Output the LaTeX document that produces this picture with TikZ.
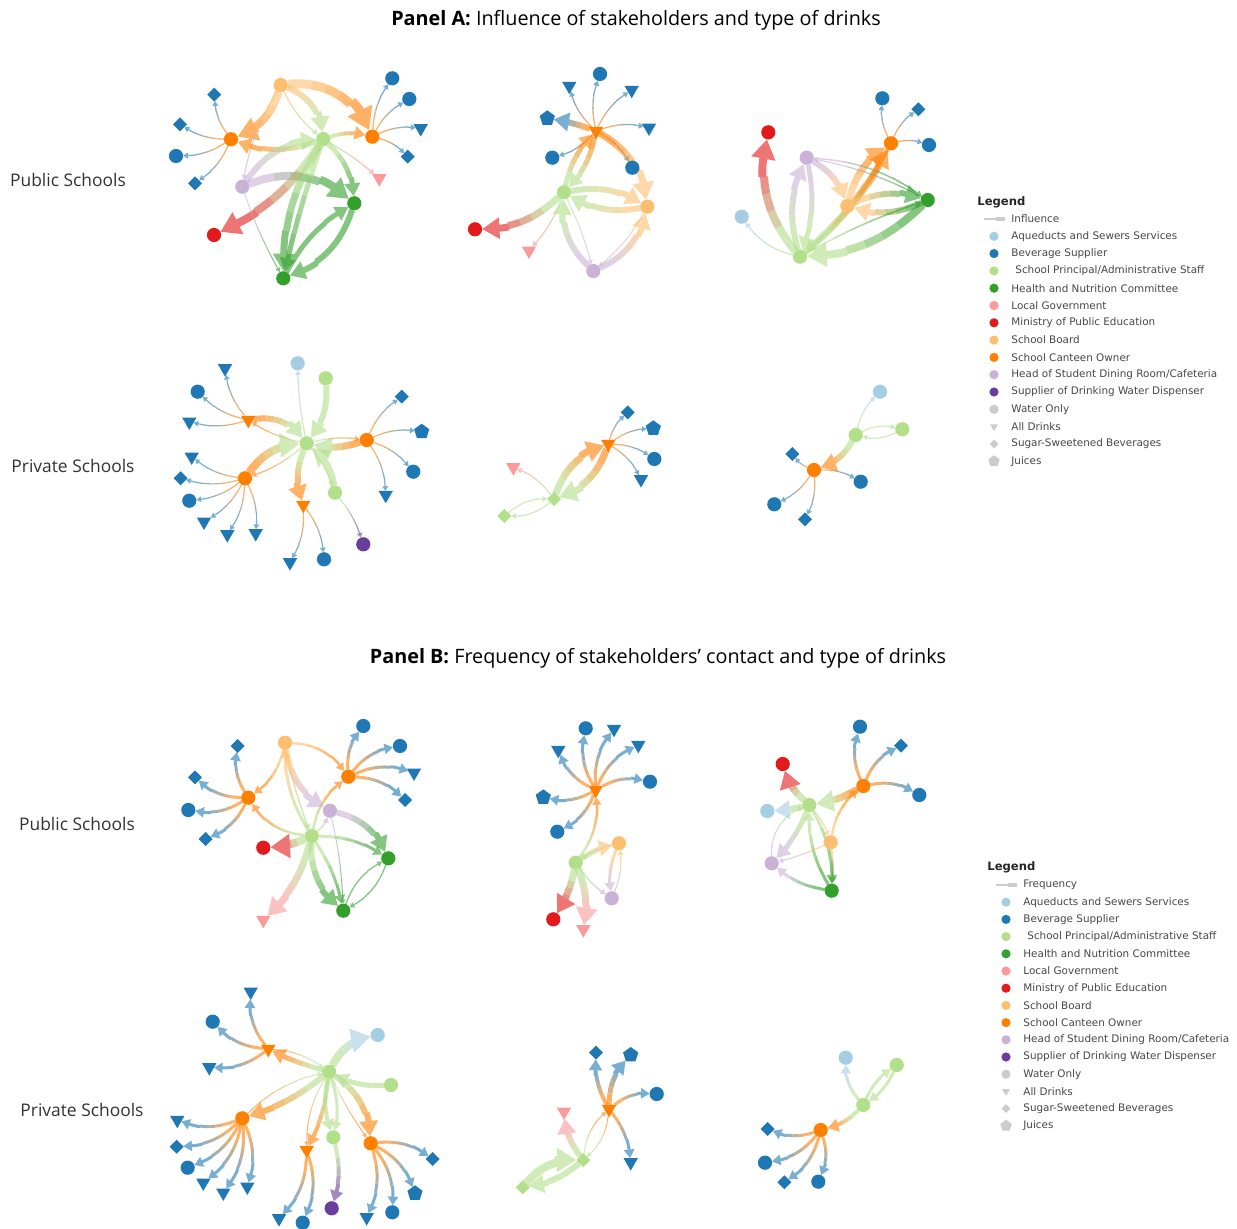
\documentclass[tikz,border=0pt]{standalone}
\usepackage{fontspec}
\setmainfont{Open Sans}
\newfontfamily\lgf{DejaVu Sans}
\usetikzlibrary{shapes.geometric,arrows.meta}
\definecolor{cAq}{HTML}{A6CEE3}
\definecolor{cBev}{HTML}{1F78B4}
\definecolor{cPri}{HTML}{B2DF8A}
\definecolor{cHea}{HTML}{33A02C}
\definecolor{cLoc}{HTML}{FB9A99}
\definecolor{cMin}{HTML}{E31A1C}
\definecolor{cSB}{HTML}{FDBF6F}
\definecolor{cCan}{HTML}{FF7F00}
\definecolor{cHd}{HTML}{CAB2D6}
\definecolor{cSup}{HTML}{6A3D9A}
\definecolor{cGr}{HTML}{CCCCCC}
\definecolor{txt}{HTML}{333333}
\pgfdeclarelayer{bg}\pgfsetlayers{bg,main}
\tikzset{
 nd/.style={inner sep=0pt, outer sep=0pt, draw=none},
 cir/.style={nd, circle, minimum size=7.1pt},
 tri/.style={nd, regular polygon, regular polygon sides=3, shape border rotate=180, minimum size=8.3pt},
 dia/.style={nd, diamond, minimum size=7pt},
 pen/.style={nd, regular polygon, regular polygon sides=5, minimum size=8pt},
 lcir/.style={nd, circle, minimum size=4.6pt},
 ltri/.style={nd, regular polygon, regular polygon sides=3, shape border rotate=180, minimum size=4.6pt},
 ldia/.style={nd, diamond, minimum size=4.4pt},
 lpen/.style={nd, regular polygon, regular polygon sides=5, minimum size=6pt},
 lgt/.style={inner sep=0pt, text=black!72, font=\lgf\fontsize{5.2}{6}\selectfont},
 ttl/.style={inner sep=0pt, text=black, font=\fontsize{9.9}{11}\selectfont},
 rowl/.style={inner sep=0pt, text=txt, font=\fontsize{8.7}{10}\selectfont},
}
\newcommand\N[5]{\node[#3, fill=#2] (#1) at (#4,#5) {};\expandafter\xdef\csname ncol#1\endcsname{#2}}
\newcommand\ed[4][15]{%
  \edef\cA{\csname ncol#3\endcsname}%
  \edef\cB{\csname ncol#4\endcsname}%
  \pgfpointdiff{\pgfpointanchor{#3}{center}}{\pgfpointanchor{#4}{center}}%
  \pgfgetlastxy{\mx}{\my}%
  \pgfmathsetmacro\Lc{max(veclen(\mx,\my)-7,2)*(1+(#1/140)*(#1/140))}%
  \pgfmathsetmacro\La{0.25*\Lc}%
  \pgfmathsetmacro\Lb{0.15*\Lc}%
  \pgfmathsetmacro\Lm{0.4*\Lc}%
  \pgfmathsetmacro\Lk{0.55*\Lc}%
  \pgfmathsetmacro\Ln{0.7*\Lc}%
  \begin{pgfonlayer}{bg}%
  \begin{scope}[transparency group, opacity=0.6]%
  \draw[line width=#2*0.5pt, draw=\cA, dash pattern=on \La pt off 3000pt] (#3) to[bend left=#1] (#4);%
  \draw[line width=#2*0.5pt, draw=\cA!75!\cB, dash pattern=on 0pt off \La pt on \Lb pt off 3000pt] (#3) to[bend left=#1] (#4);%
  \draw[line width=#2*0.5pt, draw=\cA!50!\cB, dash pattern=on 0pt off \Lm pt on \Lb pt off 3000pt] (#3) to[bend left=#1] (#4);%
  \draw[line width=#2*0.5pt, draw=\cA!25!\cB, dash pattern=on 0pt off \Lk pt on \Lb pt off 3000pt] (#3) to[bend left=#1] (#4);%
  \draw[line width=#2*0.5pt, draw=\cB, dash pattern=on 0pt off \Ln pt on 3000pt off 1pt, -{Triangle[length=1pt 2.2, width=1.2pt 2.6]}] (#3) to[bend left=#1] (#4);%
  \end{scope}%
  \end{pgfonlayer}}
\newcommand\LI[5]{%
  \node[#3, fill=#4] (#1m) at (\lgx, \lgy+#2*\lgd) {};
  \node[lgt, anchor=west] (#1t) at (\lgtx, \lgy+#2*\lgd) {#5};}
\begin{document}
\begin{tikzpicture}[x=0.5pt,y=-0.5pt]
\begin{pgfonlayer}{bg}
\fill[white] (0,0) rectangle (1237,1229);
\end{pgfonlayer}
\useasboundingbox (0,0) rectangle (1237,1229);

% titles and row labels
\node[ttl] (tA) at (636,20) {\textbf{Panel A:} Influence of stakeholders and type of drinks};
\node[ttl] (tB) at (658,658) {\textbf{Panel B:} Frequency of stakeholders' contact and type of drinks};
\node[rowl] (rA1) at (68,180) {Public Schools};
\node[rowl] (rA2) at (73,466) {Private Schools};
\node[rowl] (rB1) at (77,824) {Public Schools};
\node[rowl] (rB2) at (82,1110) {Private Schools};

% ================= Panel A public 1
\N{a1sb}{cSB}{cir}{280.7}{85}
\N{a1cl}{cCan}{cir}{231}{139.3}
\N{a1cr}{cCan}{cir}{372.3}{136.7}
\N{a1p}{cPri}{cir}{323.3}{139}
\N{a1h}{cHd}{cir}{242.3}{186.7}
\N{a1g}{cHea}{cir}{354.3}{203.3}
\N{a1g2}{cHea}{cir}{283.3}{278.3}
\N{a1m}{cMin}{cir}{214}{235}
\N{a1l}{cLoc}{tri}{379.3}{178.3}
\N{a1b1}{cBev}{dia}{214.3}{94.7}
\N{a1b2}{cBev}{dia}{180}{124.3}
\N{a1b3}{cBev}{cir}{176}{156}
\N{a1b4}{cBev}{dia}{195}{183.3}
\N{a1b5}{cBev}{cir}{392.3}{78.3}
\N{a1b6}{cBev}{cir}{409.3}{99}
\N{a1b7}{cBev}{tri}{420.7}{128.3}
\N{a1b8}{cBev}{dia}{407.7}{156.7}
\ed[35]{9}{a1sb}{a1cr}
\ed[25]{8}{a1sb}{a1cl}
\ed[30]{6}{a1sb}{a1p}
\ed[-10]{1.3}{a1sb}{a1h}
\ed[-12]{1.3}{a1sb}{a1p}
\ed[20]{5}{a1p}{a1cl}
\ed[15]{4}{a1p}{a1cr}
\ed[25]{6}{a1h}{a1p}
\ed[30]{8}{a1h}{a1g}
\ed[15]{8}{a1p}{a1m}
\ed[20]{5}{a1p}{a1g}
\ed[-15]{7}{a1p}{a1g2}
\ed[-3]{5}{a1p}{a1g2}
\ed[25]{6}{a1g}{a1g2}
\ed[15]{5}{a1g2}{a1g}
\ed[5]{1.3}{a1p}{a1l}
\ed[-5]{1}{a1h}{a1g2}
\ed{1.3}{a1cl}{a1b1}
\ed{1.3}{a1cl}{a1b2}
\ed{1.3}{a1cl}{a1b3}
\ed{1.3}{a1cl}{a1b4}
\ed{1.3}{a1cr}{a1b5}
\ed{1.3}{a1cr}{a1b6}
\ed{1.3}{a1cr}{a1b7}
\ed{1.3}{a1cr}{a1b8}

% ================= Panel A public 2
\N{a2c}{cCan}{tri}{596}{131}
\N{a2b1}{cBev}{cir}{600}{74}
\N{a2b2}{cBev}{tri}{569.3}{86}
\N{a2b3}{cBev}{tri}{631.7}{90}
\N{a2b4}{cBev}{pen}{547.3}{118.3}
\N{a2b5}{cBev}{tri}{649}{127.7}
\N{a2b6}{cBev}{cir}{552.3}{157.7}
\N{a2b7}{cBev}{cir}{632.3}{167.7}
\N{a2p}{cPri}{cir}{564}{192.3}
\N{a2sb}{cSB}{cir}{647.3}{206.7}
\N{a2m}{cMin}{cir}{475}{229.3}
\N{a2l}{cLoc}{tri}{529}{250.7}
\N{a2h}{cHd}{cir}{593.3}{271}
\ed[-5]{6}{a2c}{a2b4}
\ed{1.3}{a2c}{a2b1}
\ed{1.3}{a2c}{a2b2}
\ed{1.3}{a2c}{a2b3}
\ed{1.3}{a2c}{a2b5}
\ed{1.3}{a2c}{a2b6}
\ed{1.3}{a2c}{a2b7}
\ed[25]{7}{a2c}{a2sb}
\ed[15]{5}{a2p}{a2c}
\ed[15]{5}{a2c}{a2p}
\ed[20]{6}{a2p}{a2sb}
\ed[20]{6}{a2sb}{a2p}
\ed[20]{7}{a2p}{a2m}
\ed[10]{1.3}{a2p}{a2l}
\ed[25]{6}{a2h}{a2p}
\ed[-25]{6}{a2h}{a2sb}
\ed[10]{1}{a2sb}{a2h}
\ed[5]{1}{a2p}{a2h}

% ================= Panel A public 3
\N{a3m}{cMin}{cir}{768.3}{132.3}
\N{a3b1}{cBev}{cir}{882.3}{98.3}
\N{a3b2}{cBev}{dia}{918.3}{109.3}
\N{a3b3}{cBev}{cir}{929}{145}
\N{a3c}{cCan}{cir}{891}{143.3}
\N{a3h}{cHd}{cir}{806.7}{157.7}
\N{a3sb}{cSB}{cir}{847.3}{206}
\N{a3g}{cHea}{cir}{927.7}{200}
\N{a3a}{cAq}{cir}{741.7}{216.7}
\N{a3p}{cPri}{cir}{800}{256.7}
\ed[25]{8}{a3p}{a3m}
\ed[20]{6}{a3p}{a3h}
\ed[15]{5}{a3h}{a3p}
\ed[-10]{7}{a3p}{a3c}
\ed[20]{7}{a3sb}{a3c}
\ed[10]{4}{a3c}{a3p}
\ed[20]{6}{a3h}{a3sb}
\ed[20]{8}{a3g}{a3p}
\ed[20]{6}{a3sb}{a3g}
\ed[20]{6}{a3g}{a3sb}
\ed[15]{1.5}{a3h}{a3g}
\ed[-8]{1.2}{a3g}{a3h}
\ed[20]{1.3}{a3p}{a3a}
\ed[5]{1.5}{a3p}{a3g}
\ed{1.3}{a3c}{a3b1}
\ed{1.3}{a3c}{a3b2}
\ed{1.3}{a3c}{a3b3}

% ================= Panel A private 1
\N{a4p}{cPri}{cir}{306.7}{443.3}
\N{a4a}{cAq}{cir}{297.7}{363.3}
\N{a4p2}{cPri}{cir}{325.7}{378.3}
\N{a4ct}{cCan}{tri}{248.3}{420}
\N{a4cr}{cCan}{cir}{366.7}{440}
\N{a4cl}{cCan}{cir}{245}{478.3}
\N{a4cb}{cCan}{tri}{303.3}{505}
\N{a4p3}{cPri}{cir}{335}{492.7}
\N{a4s}{cSup}{cir}{363.3}{544.3}
\N{a4b1}{cBev}{tri}{225}{368.3}
\N{a4b2}{cBev}{cir}{197.7}{391.7}
\N{a4b3}{cBev}{tri}{189.3}{421.7}
\N{a4b4}{cBev}{dia}{401.7}{396.7}
\N{a4b5}{cBev}{pen}{421.7}{431.7}
\N{a4b6}{cBev}{cir}{413.3}{471.7}
\N{a4b7}{cBev}{tri}{385.7}{495}
\N{a4b8}{cBev}{tri}{191.7}{456.7}
\N{a4b9}{cBev}{dia}{180.7}{478.3}
\N{a4b10}{cBev}{cir}{189.3}{500.7}
\N{a4b11}{cBev}{tri}{204}{521.7}
\N{a4b12}{cBev}{tri}{227.3}{534.3}
\N{a4b13}{cBev}{tri}{255.7}{533.3}
\N{a4b14}{cBev}{tri}{290}{562.3}
\N{a4b15}{cBev}{cir}{324}{559.3}
\ed[30]{6}{a4ct}{a4p}
\ed[20]{6}{a4p2}{a4p}
\ed[15]{7}{a4cr}{a4p}
\ed[25]{8}{a4cl}{a4p}
\ed[-20]{6}{a4p}{a4cb}
\ed[-20]{7}{a4p3}{a4p}
\ed[5]{1.2}{a4p}{a4a}
\ed[10]{1.2}{a4p}{a4ct}
\ed[10]{1.2}{a4p}{a4cr}
\ed[10]{1.2}{a4p}{a4cl}
\ed[10]{1.2}{a4p}{a4p3}
\ed[10]{1.2}{a4p3}{a4s}
\ed{1.2}{a4ct}{a4b1}
\ed{1.2}{a4ct}{a4b2}
\ed{1.2}{a4ct}{a4b3}
\ed{1.2}{a4cr}{a4b4}
\ed{1.2}{a4cr}{a4b5}
\ed{1.2}{a4cr}{a4b6}
\ed{1.2}{a4cr}{a4b7}
\ed{1.2}{a4cl}{a4b8}
\ed{1.2}{a4cl}{a4b9}
\ed{1.2}{a4cl}{a4b10}
\ed{1.2}{a4cl}{a4b11}
\ed{1.2}{a4cl}{a4b12}
\ed{1.2}{a4cl}{a4b13}
\ed{1.2}{a4cb}{a4b14}
\ed{1.2}{a4cb}{a4b15}

% ================= Panel A private 2
\N{a5c}{cCan}{tri}{608.3}{444}
\N{a5b1}{cBev}{dia}{627.7}{412.3}
\N{a5b2}{cBev}{pen}{653.3}{428.3}
\N{a5b3}{cBev}{cir}{654.3}{459}
\N{a5b4}{cBev}{tri}{641}{479.3}
\N{a5p}{cPri}{dia}{554}{499}
\N{a5p2}{cPri}{dia}{504.3}{516}
\N{a5l}{cLoc}{tri}{513.3}{467.3}
\ed[25]{7}{a5p}{a5c}
\ed[25]{7}{a5c}{a5p}
\ed[-15]{1.2}{a5p}{a5l}
\ed[20]{1.2}{a5p}{a5p2}
\ed[20]{1.2}{a5p2}{a5p}
\ed{1.2}{a5c}{a5b1}
\ed{1.2}{a5c}{a5b2}
\ed{1.2}{a5c}{a5b3}
\ed{1.2}{a5c}{a5b4}

% ================= Panel A private 3
\N{a6a}{cAq}{cir}{880}{391.7}
\N{a6p2}{cPri}{cir}{902.3}{429.3}
\N{a6p}{cPri}{cir}{855.7}{435}
\N{a6c}{cCan}{cir}{814}{470}
\N{a6b1}{cBev}{dia}{792.3}{454}
\N{a6b2}{cBev}{cir}{860.7}{481.7}
\N{a6b3}{cBev}{cir}{774.3}{504.3}
\N{a6b4}{cBev}{dia}{805}{519.3}
\ed[15]{1.2}{a6p}{a6a}
\ed[20]{1.2}{a6p}{a6p2}
\ed[20]{1.2}{a6p2}{a6p}
\ed[20]{6}{a6p}{a6c}
\ed{1.2}{a6c}{a6b1}
\ed{1.2}{a6c}{a6b2}
\ed{1.2}{a6c}{a6b3}
\ed{1.2}{a6c}{a6b4}

% ================= Panel B public 1
\N{b1sb}{cSB}{cir}{285}{742.7}
\N{b1cr}{cCan}{cir}{348.3}{776.7}
\N{b1cl}{cCan}{cir}{248.3}{797.7}
\N{b1h}{cHd}{cir}{330}{810.7}
\N{b1p}{cPri}{cir}{311.7}{836}
\N{b1m}{cMin}{cir}{263.3}{847.7}
\N{b1g}{cHea}{cir}{388.3}{858.3}
\N{b1g2}{cHea}{cir}{343.3}{910.7}
\N{b1l}{cLoc}{tri}{263.3}{920}
\N{b1b1}{cBev}{cir}{363.3}{726}
\N{b1b2}{cBev}{cir}{400}{746}
\N{b1b3}{cBev}{tri}{414}{772.7}
\N{b1b4}{cBev}{dia}{405}{800}
\N{b1b5}{cBev}{dia}{237.7}{746}
\N{b1b6}{cBev}{dia}{195}{777.3}
\N{b1b7}{cBev}{cir}{188.3}{810}
\N{b1b8}{cBev}{dia}{205.7}{839}
\ed[20]{3}{b1cr}{b1b1}
\ed[20]{3}{b1cr}{b1b2}
\ed[20]{3}{b1cr}{b1b3}
\ed[20]{3}{b1cr}{b1b4}
\ed[20]{3}{b1cl}{b1b5}
\ed[20]{3}{b1cl}{b1b6}
\ed[20]{3}{b1cl}{b1b7}
\ed[20]{3}{b1cl}{b1b8}
\ed[25]{2.5}{b1sb}{b1cr}
\ed[20]{2.5}{b1sb}{b1cl}
\ed[20]{2.5}{b1p}{b1cr}
\ed[25]{2.5}{b1p}{b1cl}
\ed[-25]{6}{b1sb}{b1h}
\ed[-5]{1.5}{b1sb}{b1p}
\ed[15]{3}{b1p}{b1sb}
\ed[25]{6}{b1h}{b1g}
\ed[10]{8}{b1p}{b1m}
\ed[15]{7}{b1p}{b1l}
\ed[15]{3}{b1p}{b1g}
\ed[-25]{6}{b1p}{b1g2}
\ed[10]{3}{b1p}{b1g2}
\ed[20]{1.3}{b1g}{b1g2}
\ed[20]{1.3}{b1g2}{b1g}
\ed[-15]{1.5}{b1p}{b1h}
\ed[5]{1}{b1h}{b1g2}

% ================= Panel B public 2
\N{b2c}{cCan}{tri}{595.7}{790}
\N{b2b1}{cBev}{cir}{585.7}{728.3}
\N{b2b2}{cBev}{tri}{614}{729}
\N{b2b3}{cBev}{tri}{558.3}{750}
\N{b2b4}{cBev}{tri}{638.3}{745}
\N{b2b5}{cBev}{cir}{650}{781.7}
\N{b2b6}{cBev}{pen}{543.3}{797.3}
\N{b2b7}{cBev}{cir}{557.3}{831.7}
\N{b2sb}{cSB}{cir}{619}{843.3}
\N{b2p}{cPri}{cir}{575.7}{862.7}
\N{b2h}{cHd}{cir}{611.7}{898.3}
\N{b2m}{cMin}{cir}{553.3}{919.3}
\N{b2l}{cLoc}{tri}{583.3}{929.3}
\ed[20]{3}{b2c}{b2b1}
\ed[20]{3}{b2c}{b2b2}
\ed[20]{3}{b2c}{b2b3}
\ed[20]{3}{b2c}{b2b4}
\ed[20]{3}{b2c}{b2b5}
\ed[20]{3}{b2c}{b2b6}
\ed[20]{3}{b2c}{b2b7}
\ed[-20]{2.5}{b2p}{b2c}
\ed[10]{5}{b2p}{b2sb}
\ed[-15]{3}{b2sb}{b2h}
\ed[-15]{1.2}{b2h}{b2sb}
\ed[10]{7}{b2p}{b2m}
\ed[15]{7}{b2p}{b2l}
\ed[-10]{1.5}{b2p}{b2h}
\ed[-10]{1.2}{b2sb}{b2p}

% ================= Panel B public 3
\N{b3b1}{cBev}{cir}{860}{726.7}
\N{b3b2}{cBev}{dia}{901}{745.7}
\N{b3c}{cCan}{cir}{863.3}{786}
\N{b3b3}{cBev}{cir}{919.3}{795}
\N{b3m}{cMin}{cir}{782.7}{764}
\N{b3p}{cPri}{cir}{809.3}{805}
\N{b3a}{cAq}{cir}{767.3}{811}
\N{b3sb}{cSB}{cir}{830.7}{842.3}
\N{b3h}{cHd}{cir}{771.7}{863.3}
\N{b3g}{cHea}{cir}{831.7}{890.7}
\ed[20]{3}{b3c}{b3b1}
\ed[20]{3}{b3c}{b3b2}
\ed[20]{3}{b3c}{b3b3}
\ed[10]{7}{b3c}{b3p}
\ed[20]{2.5}{b3sb}{b3c}
\ed[15]{7}{b3p}{b3m}
\ed[5]{6}{b3p}{b3a}
\ed[10]{5}{b3p}{b3h}
\ed[15]{3}{b3p}{b3g}
\ed[15]{3}{b3g}{b3p}
\ed[15]{3}{b3g}{b3h}
\ed[35]{1.2}{b3h}{b3p}
\ed[5]{2}{b3sb}{b3g}
\ed[5]{1.2}{b3sb}{b3h}
\ed[10]{1.2}{b3p}{b3sb}

% ================= Panel B private 1
\N{b4p}{cPri}{cir}{329}{1071.7}
\N{b4a}{cAq}{cir}{377.7}{1035}
\N{b4p2}{cPri}{cir}{391}{1085}
\N{b4ct}{cCan}{tri}{268.3}{1049}
\N{b4cl}{cCan}{cir}{242.3}{1118.3}
\N{b4p3}{cPri}{cir}{333.3}{1137.3}
\N{b4cb}{cCan}{tri}{306.7}{1150}
\N{b4cr}{cCan}{cir}{370.7}{1143.3}
\N{b4s}{cSup}{cir}{331.7}{1208.3}
\N{b4b1}{cBev}{tri}{250.7}{991.7}
\N{b4b2}{cBev}{cir}{212.7}{1021.7}
\N{b4b3}{cBev}{tri}{209.3}{1067.3}
\N{b4b4}{cBev}{tri}{177.3}{1120}
\N{b4b5}{cBev}{dia}{176.7}{1146.7}
\N{b4b6}{cBev}{cir}{187.7}{1167.7}
\N{b4b7}{cBev}{tri}{203.3}{1182.7}
\N{b4b8}{cBev}{tri}{223.3}{1192.7}
\N{b4b9}{cBev}{tri}{247.3}{1186.7}
\N{b4b10}{cBev}{tri}{279}{1218.3}
\N{b4b11}{cBev}{cir}{302.7}{1222.7}
\N{b4b12}{cBev}{tri}{366.7}{1217.3}
\N{b4b13}{cBev}{cir}{392.3}{1212.3}
\N{b4b14}{cBev}{pen}{415}{1193.3}
\N{b4b15}{cBev}{dia}{432.7}{1159}
\ed[25]{8}{b4p}{b4a}
\ed[15]{5}{b4p2}{b4p}
\ed[5]{5}{b4p}{b4ct}
\ed[15]{1}{b4ct}{b4p}
\ed[10]{6}{b4p}{b4cl}
\ed[15]{1}{b4cl}{b4p}
\ed[10]{4}{b4p}{b4cb}
\ed[-15]{1}{b4p}{b4cb}
\ed[-15]{4}{b4p}{b4p3}
\ed[15]{3}{b4p}{b4p3}
\ed[25]{6}{b4p}{b4cr}
\ed[-5]{1}{b4p}{b4cr}
\ed[15]{4}{b4p3}{b4s}
\ed[20]{3}{b4ct}{b4b1}
\ed[20]{3}{b4ct}{b4b2}
\ed[20]{3}{b4ct}{b4b3}
\ed[20]{3}{b4cl}{b4b4}
\ed[20]{3}{b4cl}{b4b5}
\ed[20]{3}{b4cl}{b4b6}
\ed[20]{3}{b4cl}{b4b7}
\ed[20]{3}{b4cl}{b4b8}
\ed[20]{3}{b4cl}{b4b9}
\ed[20]{3}{b4cb}{b4b10}
\ed[20]{3}{b4cb}{b4b11}
\ed[20]{3}{b4cr}{b4b12}
\ed[20]{3}{b4cr}{b4b13}
\ed[20]{3}{b4cr}{b4b14}
\ed[20]{3}{b4cr}{b4b15}

% ================= Panel B private 2
\N{b5c}{cCan}{tri}{609}{1109}
\N{b5b1}{cBev}{dia}{596}{1052.7}
\N{b5b2}{cBev}{pen}{630.7}{1055}
\N{b5b3}{cBev}{cir}{656.7}{1094}
\N{b5b4}{cBev}{tri}{630.7}{1162.3}
\N{b5l}{cLoc}{tri}{564}{1111.7}
\N{b5p}{cPri}{dia}{583.3}{1160}
\N{b5p2}{cPri}{dia}{522.7}{1187.3}
\ed[15]{4}{b5c}{b5b1}
\ed[20]{5}{b5c}{b5b2}
\ed[20]{3}{b5c}{b5b3}
\ed[15]{3}{b5c}{b5b4}
\ed[20]{1}{b5p}{b5c}
\ed[20]{1}{b5c}{b5p}
\ed[15]{6}{b5p}{b5l}
\ed[25]{8}{b5p2}{b5p}
\ed[15]{6}{b5p}{b5p2}

% ================= Panel B private 3
\N{b6a}{cAq}{cir}{845.7}{1057.7}
\N{b6p2}{cPri}{cir}{896.7}{1065}
\N{b6p}{cPri}{cir}{863.3}{1105}
\N{b6c}{cCan}{cir}{820.7}{1130}
\N{b6b1}{cBev}{dia}{767.7}{1129}
\N{b6b2}{cBev}{cir}{765}{1162.7}
\N{b6b3}{cBev}{dia}{784.3}{1182.3}
\N{b6b4}{cBev}{cir}{818.3}{1181.7}
\ed[20]{3}{b6p}{b6a}
\ed[15]{3}{b6p}{b6p2}
\ed[15]{3}{b6p2}{b6p}
\ed[15]{4}{b6p}{b6c}
\ed[20]{3}{b6c}{b6b1}
\ed[20]{3}{b6c}{b6b2}
\ed[20]{3}{b6c}{b6b3}
\ed[20]{3}{b6c}{b6b4}

% ================= Legends
\def\lgx{994}\def\lgtx{1011}\def\lgy{219}\def\lgd{17.3}
\node[lgt, anchor=west, text=black!85, font=\lgf\bfseries\fontsize{5.8}{7}\selectfont] (lA) at (977,202) {Legend};
\coordinate (lAi1) at (984,219); \coordinate (lAi2) at (996,219); \coordinate (lAi3) at (1005,219);
\draw[cGr, line width=0.6pt] (lAi1) -- (lAi2);
\draw[cGr, line width=1.8pt] (lAi2) -- (lAi3);
\node[lgt, anchor=west] (lAit) at (\lgtx,219) {Influence};
\LI{la1}{1}{lcir}{cAq}{Aqueducts and Sewers Services}
\LI{la2}{2}{lcir}{cBev}{Beverage Supplier}
\LI{la3}{3}{lcir}{cPri}{\hspace{2pt}School Principal/Administrative Staff}
\LI{la4}{4}{lcir}{cHea}{Health and Nutrition Committee}
\LI{la5}{5}{lcir}{cLoc}{Local Government}
\LI{la6}{6}{lcir}{cMin}{Ministry of Public Education}
\LI{la7}{7}{lcir}{cSB}{School Board}
\LI{la8}{8}{lcir}{cCan}{School Canteen Owner}
\LI{la9}{9}{lcir}{cHd}{Head of Student Dining Room/Cafeteria}
\LI{la10}{10}{lcir}{cSup}{Supplier of Drinking Water Dispenser}
\LI{la11}{11}{lcir}{cGr}{Water Only}
\LI{la12}{12}{ltri}{cGr}{All Drinks}
\LI{la13}{13}{ldia}{cGr}{Sugar-Sweetened Beverages}
\LI{la14}{14}{lpen}{cGr}{Juices}

\def\lgx{1006}\def\lgtx{1023}\def\lgy{885}\def\lgd{17.2}
\node[lgt, anchor=west, text=black!85, font=\lgf\bfseries\fontsize{5.8}{7}\selectfont] (lB) at (987,867) {Legend};
\coordinate (lBi1) at (996,885); \coordinate (lBi2) at (1008,885); \coordinate (lBi3) at (1017,885);
\draw[cGr, line width=0.6pt] (lBi1) -- (lBi2);
\draw[cGr, line width=1.8pt] (lBi2) -- (lBi3);
\node[lgt, anchor=west] (lBit) at (\lgtx,885) {Frequency};
\LI{lb1}{1}{lcir}{cAq}{Aqueducts and Sewers Services}
\LI{lb2}{2}{lcir}{cBev}{Beverage Supplier}
\LI{lb3}{3}{lcir}{cPri}{\hspace{2pt}School Principal/Administrative Staff}
\LI{lb4}{4}{lcir}{cHea}{Health and Nutrition Committee}
\LI{lb5}{5}{lcir}{cLoc}{Local Government}
\LI{lb6}{6}{lcir}{cMin}{Ministry of Public Education}
\LI{lb7}{7}{lcir}{cSB}{School Board}
\LI{lb8}{8}{lcir}{cCan}{School Canteen Owner}
\LI{lb9}{9}{lcir}{cHd}{Head of Student Dining Room/Cafeteria}
\LI{lb10}{10}{lcir}{cSup}{Supplier of Drinking Water Dispenser}
\LI{lb11}{11}{lcir}{cGr}{Water Only}
\LI{lb12}{12}{ltri}{cGr}{All Drinks}
\LI{lb13}{13}{ldia}{cGr}{Sugar-Sweetened Beverages}
\LI{lb14}{14}{lpen}{cGr}{Juices}
\end{tikzpicture}
\end{document}
